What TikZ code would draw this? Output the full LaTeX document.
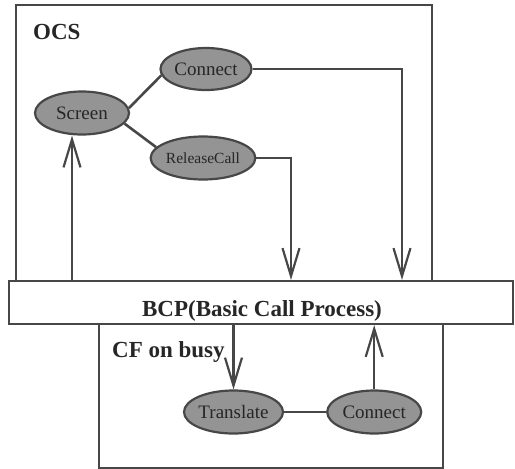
\documentclass[tikz,border=0pt]{standalone}
\usepackage{fontspec}
\setmainfont{Liberation Serif}
\usetikzlibrary{positioning,arrows.meta,shapes.geometric}
\definecolor{inkgray}{gray}{0.28}
\definecolor{blobgray}{gray}{0.58}

\begin{document}
\begin{tikzpicture}[x=1pt, y=-1pt,
    box/.style={rectangle, draw=inkgray, line width=2.2pt, inner sep=0pt},
    proc/.style={ellipse, draw=inkgray, fill=blobgray, line width=2.2pt,
      minimum width=94pt, minimum height=43pt, inner sep=0pt,
      text=black!85, font=\fontsize{19}{21}\selectfont},
    title/.style={anchor=base west, inner sep=0pt, text=black!85,
      font=\fontsize{23}{26}\selectfont\bfseries},
    link/.style={draw=inkgray, line width=2.6pt},
    flow/.style={draw=inkgray, line width=2.2pt,
      -{Straight Barb[length=28pt,width=17pt]}}]

\useasboundingbox (0,0) rectangle (515,469);

% frames
\node[box, minimum width=416pt, minimum height=276pt] (ocs) at (224,143) {};
\node[box, minimum width=344pt, minimum height=144pt] (cfb) at (271,396) {};
\node[box, fill=white, minimum width=504pt, minimum height=43pt] (bcp) at (261,302.5) {};

\node[title] (ocslabel) at (33,39) {OCS};
\node[title] (cfblabel) at (112,357) {CF on busy};
\node[title, anchor=base] (bcplabel) at (262,316) {BCP(Basic Call Process)};

% OCS processes
\node[proc] (screen) at (82,113) {Screen};
\node[proc, minimum width=91pt, minimum height=42pt] (connA) at (206,69) {Connect};
\node[proc, font=\fontsize{15.5}{17}\selectfont] (release) at (203,158) {ReleaseCall};

% CF on busy processes
\node[proc] (translate) at (233.5,412) {Translate};
\node[proc, right=42pt of translate] (connB) {Connect};

\draw[link] (screen.6) -- (connA.188);
\draw[link] (screen.-14) -- (release.167);
\draw[link] (translate.east) -- (connB.west);

% hand-offs to and from the call process
\coordinate (sx) at (72,0);
\coordinate (cx) at (402,0);
\coordinate (rx) at (291,0);

\draw[flow] (sx |- bcp.north) -- (sx |- screen.south);
\draw[flow] (connA.east) -| (cx |- bcp.north);
\draw[flow] (release.east) -| (rx |- bcp.north);
\draw[flow] (bcp.south -| translate.north) -- (translate.north);
\draw[flow] (connB.north) -- (connB.north |- bcp.south);
\end{tikzpicture}
\end{document}
